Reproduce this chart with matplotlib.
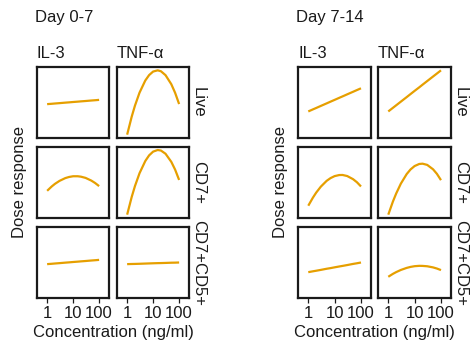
import matplotlib
matplotlib.use("Agg")

import matplotlib.pyplot as plt

plt.rcParams["font.family"] = ["Liberation Sans", "DejaVu Sans"]

# concentrations (ng/ml) and read-off dose response (relative, 0-1 panel scale)
conc = [1, 1.5, 2, 3, 5, 7, 10, 15, 20, 30, 50, 70, 100]
periods = ["Day 0-7", "Day 7-14"]
cytokines = ["IL-3", "TNF-α"]
populations = ["Live", "CD7+", "CD7+CD5+"]

d0_il3_live = [.477, .482, .486, .491, .498, .502, .507, .512, .516, .521, .528, .532, .537]
d0_tnf_live = [.047, .301, .456, .639, .810, .886, .936, .953, .940, .885, .758, .637, .478]
d0_il3_cd7 = [.383, .444, .481, .523, .562, .578, .588, .588, .582, .565, .527, .493, .449]
d0_tnf_cd7 = [.047, .297, .450, .631, .803, .882, .935, .958, .950, .905, .791, .682, .536]
d0_il3_cd5 = [.477, .482, .486, .491, .498, .502, .507, .512, .516, .521, .528, .532, .537]
d0_tnf_cd5 = [.477, .479, .480, .482, .485, .487, .489, .491, .492, .494, .497, .498, .500]

d7_il3_live = [.374, .403, .423, .452, .488, .512, .537, .566, .586, .615, .651, .675, .700]
d7_tnf_live = [.374, .425, .461, .512, .576, .619, .664, .714, .751, .802, .866, .908, .953]
d7_il3_cd7 = [.173, .287, .358, .442, .524, .562, .590, .605, .606, .591, .547, .504, .444]
d7_tnf_cd7 = [.047, .232, .346, .484, .619, .684, .732, .761, .765, .748, .686, .622, .533]
d7_il3_cd5 = [.364, .376, .384, .396, .412, .421, .432, .444, .452, .464, .480, .489, .500]
d7_tnf_cd5 = [.299, .340, .365, .395, .424, .438, .448, .453, .452, .447, .431, .415, .393]

curves = {
    "Day 0-7": [[d0_il3_live, d0_tnf_live],
                [d0_il3_cd7, d0_tnf_cd7],
                [d0_il3_cd5, d0_tnf_cd5]],
    "Day 7-14": [[d7_il3_live, d7_tnf_live],
                 [d7_il3_cd7, d7_tnf_cd7],
                 [d7_il3_cd5, d7_tnf_cd5]],
}

W, H = 470, 345
fig = plt.figure(figsize=(W / 100, H / 100), dpi=100)


def box(x0, y0, x1, y1):
    # pixel box (top-left origin) -> figure fraction rect
    return [x0 / W, 1 - y1 / H, (x1 - x0) / W, (y1 - y0) / H]


group_x = {"Day 0-7": [(37, 109), (117, 189)],
           "Day 7-14": [(298, 371), (378, 451)]}
row_y = [(67, 138), (147, 218), (227, 298)]
orange = "#E69F00"
ink = "#1a1a1a"
fs = 12

for period in periods:
    cols = group_x[period]
    for r, (y0, y1) in enumerate(row_y):
        for c, (x0, x1) in enumerate(cols):
            ax = fig.add_axes(box(x0, y0, x1, y1))
            ax.plot(conc, curves[period][r][c], color=orange, lw=1.6,
                    solid_capstyle="butt", solid_joinstyle="round")
            ax.set_xscale("log")
            ax.set_xlim(10 ** -0.39, 10 ** 2.38)
            ax.set_ylim(0, 1)
            ax.set_yticks([])
            ax.minorticks_off()
            for s in ax.spines.values():
                s.set_linewidth(1.6)
                s.set_color(ink)
            if r == 2:
                ax.set_xticks([1, 10, 100])
                ax.set_xticklabels(["1", "10", "100"])
                ax.tick_params(axis="x", length=3.5, width=0.9, pad=2,
                               labelsize=fs, colors=ink)
            else:
                ax.set_xticks([])
            if r == 0:
                fig.text(x0 / W, 1 - 53.5 / H, cytokines[c], ha="left",
                         va="center", fontsize=fs, color=ink)
            if c == 1:
                fig.text((x1 + 2) / W, 1 - (y0 + y1) / 2 / H, populations[r],
                         ha="left", va="center", rotation=270, fontsize=fs,
                         color=ink)

    gx0 = cols[0][0]
    gx1 = cols[1][1]
    fig.text((gx0 - 2) / W, 1 - 17.5 / H, period, ha="left", va="center",
             fontsize=fs, color=ink)
    fig.text((gx0 - 17) / W, 1 - 182 / H, "Dose response", rotation=90,
             ha="center", va="center", fontsize=fs, color=ink)
    fig.text((gx0 + gx1) / 2 / W, 1 - 333 / H, "Concentration (ng/ml)",
             ha="center", va="center", fontsize=fs, color=ink)

fig.savefig("out.png", dpi=100)
